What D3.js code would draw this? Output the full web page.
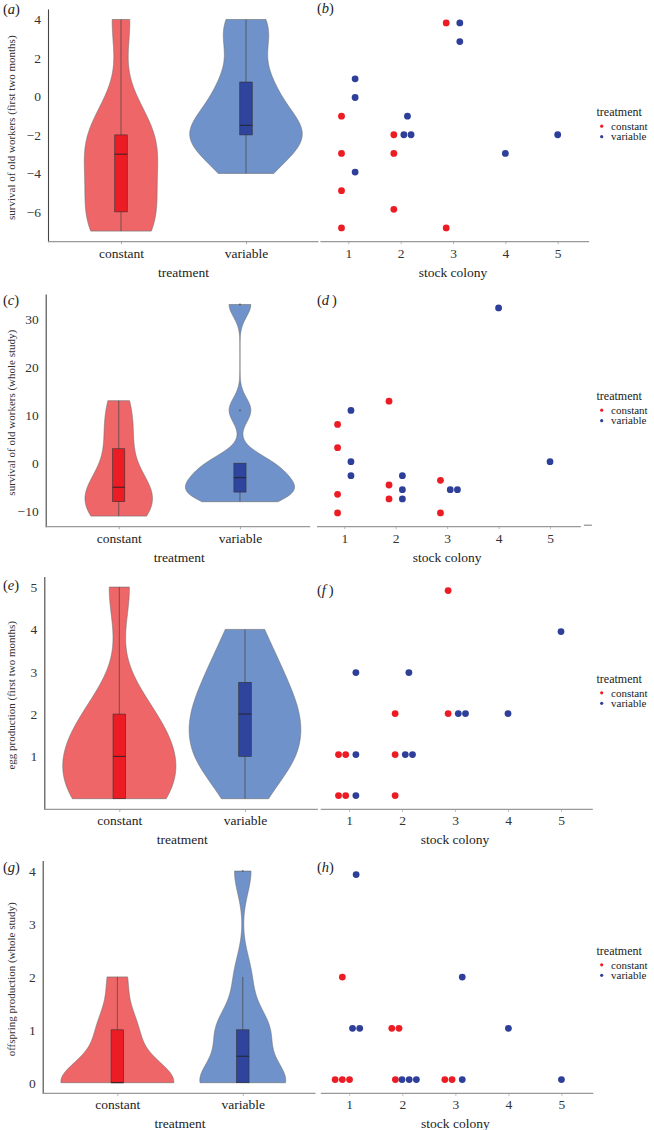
<!DOCTYPE html>
<html>
<head>
<meta charset="utf-8">
<script src="https://cdn.jsdelivr.net/npm/d3@7"></script>
<style>
  body { margin: 0; background: #fff; }
  text { font-family: 'Liberation Serif', 'Times New Roman', serif; }
</style>
</head>
<body>
<script>
// treatments and stock colonies
const treatments = ['constant', 'variable'];
const colonyTicks = [1, 2, 3, 4, 5];
// stock colony of every worker group, same order as the value arrays
const constantColony = [1, 1, 1, 1, 2, 2, 2, 3, 3];
const variableColony = [1, 1, 1, 2, 2, 2, 3, 3, 4, 5];

// (a)(b) survival of old workers, first two months
const survivalTwoMonthsConstant = [-1, -3, -5, -7, -2, -3, -6, 4, -7];
const survivalTwoMonthsVariable = [1, 0, -4, -1, -2, -2, 4, 3, -3, -2];
const survivalTwoMonthsTicks = [-6, -4, -2, 0, 2, 4];
// (c)(d) survival of old workers, whole study
const survivalWholeConstant = [8, 3, -7, -11, 13, -5, -8, -4, -11];
const survivalWholeVariable = [11, 0, -3, -3, -6, -8, -6, -6, 33, 0];
const survivalWholeTicks = [-10, 0, 10, 20, 30];
// (e)(f) egg production, first two months
const eggsTwoMonthsConstant = [1, 1, 0, 0, 2, 1, 0, 5, 2];
const eggsTwoMonthsVariable = [3, 1, 0, 3, 1, 1, 2, 2, 2, 4];
const eggsTwoMonthsTicks = [1, 2, 3, 4, 5];
// (g)(h) offspring production, whole study
const offspringWholeConstant = [2, 0, 0, 0, 1, 1, 0, 0, 0];
const offspringWholeVariable = [4, 1, 1, 0, 0, 0, 2, 0, 1, 0];
const offspringWholeTicks = [0, 1, 2, 3, 4];

const rows = [
  { labels: ['a', 'b'], title: 'survival of old workers (first two months)',
    constant: survivalTwoMonthsConstant, variable: survivalTwoMonthsVariable, ticks: survivalTwoMonthsTicks,
    axisY: 241.7, yAxisX: 48, vRange: [46, 321], sRange: [316.9, 589.1], legendUp: 116, labelY: [14, 13] },
  { labels: ['c', 'd'], title: 'survival of old workers (whole study)',
    constant: survivalWholeConstant, variable: survivalWholeVariable, ticks: survivalWholeTicks,
    axisY: 526.7, yAxisX: 45.7, vRange: [46, 312.7], sRange: [313.4, 580.9], legendUp: 117, labelY: [305, 305], dash: true },
  { labels: ['e', 'f'], title: 'egg production (first two months)',
    constant: eggsTwoMonthsConstant, variable: eggsTwoMonthsVariable, ticks: eggsTwoMonthsTicks,
    axisY: 809.3, yAxisX: 44.3, vRange: [43.9, 320.4], sRange: [317.2, 592.8], legendUp: 117, labelY: [590, 595] },
  { labels: ['g', 'h'], title: 'offspring production (whole study)',
    constant: offspringWholeConstant, variable: offspringWholeVariable, ticks: offspringWholeTicks,
    axisY: 1093.3, yAxisX: 42.7, vRange: [42.1, 318], sRange: [317.4, 593.3], legendUp: 129, labelY: [872, 872] }
];

const violinFill = { constant: '#ef6668', variable: '#6f92ca' };
const boxFill = { constant: '#ec1c24', variable: '#2f449c' };
const pointFill = { constant: '#ed1c24', variable: '#2e3f9a' };

const svg = d3.select('body').append('svg').attr('width', 654).attr('height', 1130);

// R's bw.nrd0
function bandwidth(v) {
  const s = d3.sort(v);
  const iqr = d3.quantileSorted(s, 0.75) - d3.quantileSorted(s, 0.25);
  const lo = Math.min(d3.deviation(v), iqr / 1.34);
  return 0.9 * lo * Math.pow(v.length, -0.2);
}
function density(v) {
  const bw = bandwidth(v);
  const [lo, hi] = d3.extent(v);
  return d3.range(512).map(i => {
    const y = lo + (hi - lo) * i / 511;
    const d = d3.mean(v, x => Math.exp(-0.5 * ((y - x) / bw) ** 2) / Math.sqrt(2 * Math.PI)) / bw;
    return [y, d];
  });
}
function boxStats(v) {
  const s = d3.sort(v);
  const q1 = d3.quantileSorted(s, 0.25), med = d3.quantileSorted(s, 0.5), q3 = d3.quantileSorted(s, 0.75);
  const iqr = q3 - q1;
  const inside = s.filter(x => x >= q1 - 1.5 * iqr && x <= q3 + 1.5 * iqr);
  return { q1, med, q3, lo: d3.min(inside), hi: d3.max(inside), out: s.filter(x => !inside.includes(x)) };
}
function expand(v) {
  const [a, b] = d3.extent(v);
  return [a - 0.05 * (b - a), b + 0.05 * (b - a)];
}

function panelLabel(x, y, letter, gap) {
  const t = svg.append('text').attr('x', x).attr('y', y).attr('font-size', 14.5).attr('fill', '#222');
  t.append('tspan').text('(');
  t.append('tspan').attr('font-style', 'italic').text(letter);
  t.append('tspan').text(gap ? '\u2009)' : ')');
}

rows.forEach(row => {
  const all = row.constant.concat(row.variable);
  const dom = expand(all);

  // ---------- left: violin + box ----------
  const g = svg.append('g');
  const xs = d3.scalePoint().domain(treatments).range(row.vRange).padding(0.6);
  const ys = d3.scaleLinear().domain(dom).range([row.axisY, row.axisY - 232.8]);
  const step = xs.step();

  const dens = { constant: density(row.constant), variable: density(row.variable) };
  const maxD = d3.max(treatments, t => d3.max(dens[t], d => d[1]));

  treatments.forEach(t => {
    const cx = xs(t);
    const area = d3.area()
      .y(d => ys(d[0]))
      .x0(d => cx - d[1] / maxD * 0.45 * step)
      .x1(d => cx + d[1] / maxD * 0.45 * step);
    g.append('path').attr('d', area(dens[t]))
      .attr('fill', violinFill[t]).attr('stroke', '#6b6b6b').attr('stroke-width', 0.6);

    const b = boxStats(row[t]);
    const bw = 0.05 * step;
    g.append('line').attr('x1', cx).attr('x2', cx).attr('y1', ys(b.lo)).attr('y2', ys(b.hi))
      .attr('stroke', '#444').attr('stroke-width', 0.7);
    g.append('rect').attr('x', cx - bw).attr('width', 2 * bw)
      .attr('y', ys(b.q3)).attr('height', ys(b.q1) - ys(b.q3))
      .attr('fill', boxFill[t]).attr('stroke', '#333').attr('stroke-width', 0.6);
    g.append('line').attr('x1', cx - bw).attr('x2', cx + bw).attr('y1', ys(b.med)).attr('y2', ys(b.med))
      .attr('stroke', '#222').attr('stroke-width', 0.9);
    g.selectAll(null).data(b.out).enter().append('circle')
      .attr('cx', cx).attr('cy', d => ys(d)).attr('r', 0.9).attr('fill', '#555');
  });

  // y axis
  const ya = g.append('g').attr('transform', `translate(${row.yAxisX},0)`)
    .call(d3.axisLeft(ys).tickValues(row.ticks).tickFormat(d3.format('d'))
      .tickSize(0).tickSizeOuter(0).tickPadding(7));
  ya.select('.domain').attr('stroke', '#444').attr('stroke-width', 1.1);
  ya.selectAll('text').attr('font-size', 13.5).attr('fill', '#333').style('font-family', "'Liberation Serif', serif");

  // x axis
  const xa = g.append('g').attr('transform', `translate(0,${row.axisY})`)
    .call(d3.axisBottom(xs).tickSize(2.5).tickSizeOuter(0).tickPadding(4));
  xa.select('.domain').remove();
  xa.selectAll('line').attr('stroke', '#aaa');
  xa.selectAll('text').attr('font-size', 13.5).attr('fill', '#222').style('font-family', "'Liberation Serif', serif");
  g.append('line').attr('x1', row.yAxisX).attr('x2', row.vRange[1] - 2.5)
    .attr('y1', row.axisY).attr('y2', row.axisY).attr('stroke', '#999').attr('stroke-width', 1.2);

  g.append('text').attr('x', d3.mean(xs.range())).attr('y', row.axisY + 35)
    .attr('text-anchor', 'middle').attr('font-size', 13.5).attr('fill', '#222').text('treatment');
  g.append('text')
    .attr('transform', `translate(15,${row.axisY - 114}) rotate(-90)`)
    .attr('text-anchor', 'middle').attr('font-size', 11).attr('fill', '#333').text(row.title);

  // ---------- right: points by stock colony ----------
  const sx = d3.scaleLinear().domain([0.4, 5.6]).range(row.sRange);
  const sy = d3.scaleLinear().domain(dom).range([row.axisY - 3.5, row.axisY - 229]);
  const pts = [];
  treatments.forEach(t => {
    const cols = t === 'constant' ? constantColony : variableColony;
    cols.forEach((c, i) => pts.push({ t, c, v: row[t][i] }));
  });
  const both = new Set(constantColony.filter(c => variableColony.includes(c)));
  d3.group(pts, d => d.c, d => d.t, d => d.v).forEach(byT => byT.forEach(byV => byV.forEach(list => {
    list.forEach((d, k) => {
      const dodge = both.has(d.c) ? (d.t === 'constant' ? -0.13 : 0.13) : 0;
      d.x = sx(d.c + dodge) + (k - (list.length - 1) / 2) * 7.2;
    });
  })));
  const s = svg.append('g');
  s.selectAll('circle').data(pts).enter().append('circle')
    .attr('cx', d => d.x).attr('cy', d => sy(d.v)).attr('r', 3.4)
    .attr('fill', d => pointFill[d.t]);

  const sa = s.append('g').attr('transform', `translate(0,${row.axisY})`)
    .call(d3.axisBottom(sx).tickValues(colonyTicks).tickFormat(d3.format('d')).tickSize(2.5).tickPadding(4));
  sa.select('.domain').remove();
  sa.selectAll('line').attr('stroke', '#bbb');
  sa.selectAll('text').attr('font-size', 13.5).attr('fill', '#333').style('font-family', "'Liberation Serif', serif");
  s.append('line').attr('x1', row.sRange[0] + 3.5).attr('x2', row.sRange[1])
    .attr('y1', row.axisY).attr('y2', row.axisY).attr('stroke', '#999').attr('stroke-width', 1.2);
  if (row.dash) {
    s.append('line').attr('x1', row.sRange[1] + 3).attr('x2', row.sRange[1] + 11)
      .attr('y1', row.axisY - 1.5).attr('y2', row.axisY - 1.5).attr('stroke', '#777').attr('stroke-width', 1);
  }
  s.append('text').attr('x', sx(3)).attr('y', row.axisY + 35)
    .attr('text-anchor', 'middle').attr('font-size', 13.5).attr('fill', '#222').text('stock colony');

  // legend
  const ly = row.axisY - row.legendUp;
  const lg = svg.append('g').attr('transform', `translate(596.5,${ly})`);
  lg.append('text').attr('y', -9.5).attr('font-size', 12).attr('fill', '#222').text('treatment');
  treatments.forEach((t, i) => {
    lg.append('circle').attr('cx', 5.2).attr('cy', 0.5 + i * 10.5).attr('r', 1.6).attr('fill', pointFill[t]);
    lg.append('text').attr('x', 14.5).attr('y', 4.3 + i * 10.5).attr('font-size', 11).attr('fill', '#222').text(t);
  });

  panelLabel(3, row.labelY[0], row.labels[0], false);
  panelLabel(317, row.labelY[1], row.labels[1], row.labels[1] === 'd' || row.labels[1] === 'f');
});
</script>
</body>
</html>
